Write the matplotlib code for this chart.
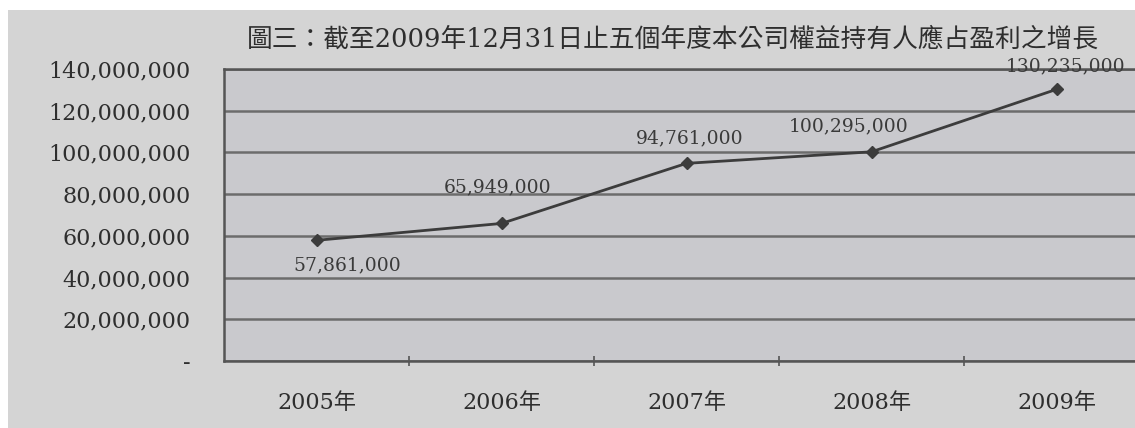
import matplotlib
matplotlib.use("Agg")
import matplotlib.pyplot as plt
from matplotlib.patches import Rectangle
from matplotlib.ticker import FuncFormatter

years = ["2005年", "2006年", "2007年", "2008年", "2009年"]
profit = [57861000, 65949000, 94761000, 100295000, 130235000]
yticks = [0, 20000000, 40000000, 60000000, 80000000, 100000000, 120000000, 140000000]
title = "圖三：截至2009年12月31日止五個年度本公司權益持有人應占盈利之增長"

# label offsets in pixels (dx, dy) from each point
label_off = [(31, -25), (-4, 36), (3, 25), (-23, 25), (9, 23)]

fonts = ['DejaVu Serif', 'Noto Sans CJK TC']
W, H = 1135, 428

fig = plt.figure(figsize=(W / 100, H / 100), dpi=100)
fig.patch.set_facecolor('white')
fig.patches.append(Rectangle((8 / W, 0), 1, 1 - 10 / H, transform=fig.transFigure,
                             facecolor='#d4d4d4', edgecolor='none', zorder=-5))

# axes runs past the right edge like in the scan
ax = fig.add_axes([224 / W, (H - 361) / H, 925 / W, 292 / H])
ax.set_facecolor('#c9c9cd')

x = list(range(len(years)))
ax.plot(x, profit, color='#3c3c3c', lw=2, marker='D', ms=6, zorder=3)

for i, v in enumerate(profit):
    ax.annotate(f"{v:,}", (i, v), xytext=label_off[i], textcoords='offset pixels',
                ha='center', va='center', fontsize=13.5, family='DejaVu Serif',
                color='#3a3a3a', zorder=4, annotation_clip=False)

ax.set_xlim(-0.5, 4.5)
ax.set_ylim(0, 140000000)
ax.set_yticks(yticks)
ax.yaxis.set_major_formatter(FuncFormatter(lambda v, p: "-" if v == 0 else f"{int(v):,}"))
ax.grid(axis='y', color='#6c6c6c', lw=1.8)
ax.set_axisbelow(True)
ax.tick_params(axis='y', length=0, pad=24, labelsize=16, labelcolor='#2e2e2e')
for lab in ax.get_yticklabels():
    lab.set_family('DejaVu Serif')

ax.set_xticks(x)
ax.set_xticklabels(years, family=fonts, fontsize=16, color='#2e2e2e')
ax.set_xticks([0.5, 1.5, 2.5, 3.5], minor=True)
ax.tick_params(axis='x', which='major', length=0, pad=22)
ax.tick_params(axis='x', which='minor', length=7, direction='inout', color='#555555', width=1.2)

for s in ['left', 'bottom', 'top']:
    ax.spines[s].set_color('#555555')
    ax.spines[s].set_linewidth(1.8)
ax.spines['right'].set_visible(False)

fig.text(673 / W, 1 - 39 / H, title, ha='center', va='center', fontsize=18.5,
         family=fonts, color='#2e2e2e')

fig.savefig("out.png", dpi=100)
